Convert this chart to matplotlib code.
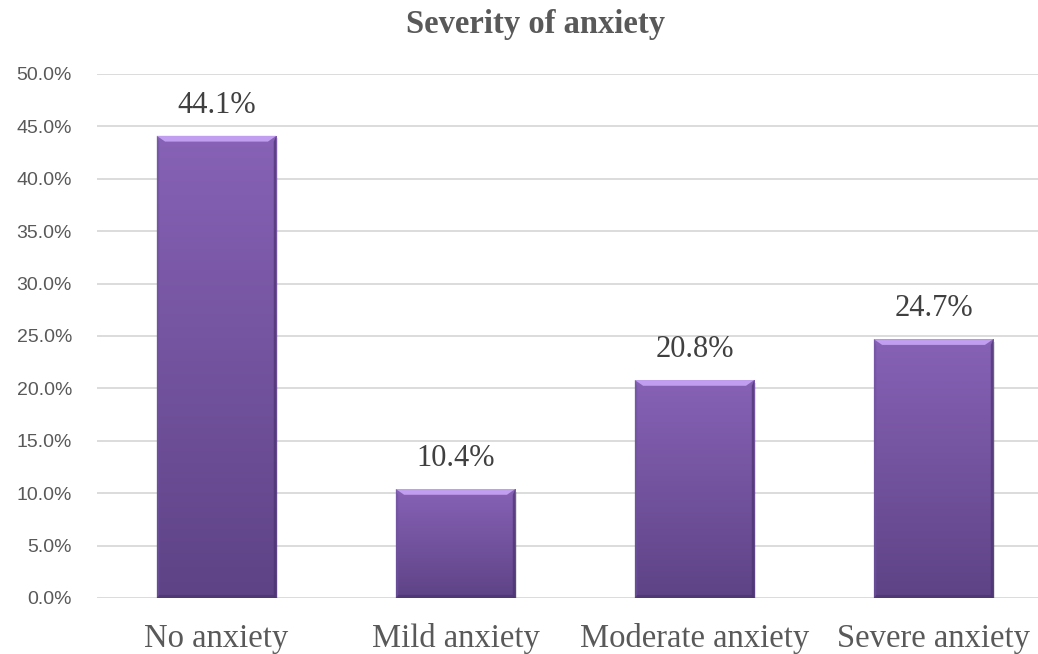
import numpy as np
import matplotlib.pyplot as plt
from matplotlib.patches import Polygon, Rectangle
from matplotlib.ticker import FuncFormatter, MultipleLocator

categories = ["No anxiety", "Mild anxiety", "Moderate anxiety", "Severe anxiety"]
values = [44.1, 10.4, 20.8, 24.7]
value_labels = ["44.1%", "10.4%", "20.8%", "24.7%"]

gray = "#595959"
grid_col = "#d9d9d9"
top_col = np.array([0x87, 0x62, 0xb6]) / 255
bot_col = np.array([0x5e, 0x43, 0x86]) / 255

fig = plt.figure(figsize=(10.38, 6.54), dpi=100)
ax = fig.add_axes([97 / 1038, 1 - 598 / 654, 941 / 1038, 524 / 654])

ax.set_xlim(-0.5, 3.437)
ax.set_ylim(0, 50)
ax.yaxis.set_major_locator(MultipleLocator(5))
ax.yaxis.set_major_formatter(FuncFormatter(lambda v, p: f"{v:.1f}%"))
ax.grid(axis="y", color=grid_col, linewidth=1.3)
ax.set_axisbelow(True)
for s in ax.spines.values():
    s.set_visible(False)
ax.tick_params(axis="both", length=0)
ax.tick_params(axis="y", labelsize=14, labelcolor=gray, pad=18)
ax.set_xticks(range(len(categories)))
ax.set_xticklabels(categories, fontsize=23.5, color=gray, family="Liberation Serif")
ax.tick_params(axis="x", pad=18)
for lbl in ax.get_yticklabels():
    lbl.set_family("Liberation Sans")

width = 0.5
grad = np.linspace(0, 1, 256)[:, None, None]
grad_img = top_col * (1 - grad) + bot_col * grad

# bevel size in data units
bx = 0.035
by = 0.55

for i, v in enumerate(values):
    x0, x1 = i - width / 2, i + width / 2
    # soft shadow
    ax.add_patch(Rectangle((x0 + 0.008, -0.25), width, v, color="#000000",
                           alpha=0.12, zorder=2, linewidth=0))
    im = ax.imshow(grad_img, extent=(x0, x1, 0, v), origin="upper",
                   aspect="auto", zorder=3)
    clip = Rectangle((x0, 0), width, v, transform=ax.transData)
    im.set_clip_path(clip)
    # bevel: top light, sides shaded, bottom dark
    ax.add_patch(Polygon([(x0, v), (x1, v), (x1 - bx, v - by), (x0 + bx, v - by)],
                         closed=True, color="#c29ef0", zorder=4, linewidth=0))
    ax.add_patch(Polygon([(x0, v), (x0 + bx * 0.3, v - by), (x0 + bx * 0.3, 0), (x0, 0)],
                         closed=True, color="#6f52a0", alpha=0.6, zorder=4, linewidth=0))
    ax.add_patch(Polygon([(x1, v), (x1 - bx * 0.3, v - by), (x1 - bx * 0.3, 0), (x1, 0)],
                         closed=True, color="#4b3470", alpha=0.7, zorder=4, linewidth=0))
    ax.add_patch(Polygon([(x0, 0), (x1, 0), (x1 - bx * 0.3, 0.3), (x0 + bx * 0.3, 0.3)],
                         closed=True, color="#4b3470", alpha=0.7, zorder=4, linewidth=0))
    ax.text(i, v + 1.5, value_labels[i], ha="center", va="bottom", fontsize=22,
            color="#404040", family="Liberation Serif", zorder=5)

fig.text(536 / 1038, 1 - 24 / 654, "Severity of anxiety", ha="center", va="center",
         fontsize=23.5, fontweight="bold", color=gray, family="Liberation Serif")

fig.savefig("out.png", dpi=100)
